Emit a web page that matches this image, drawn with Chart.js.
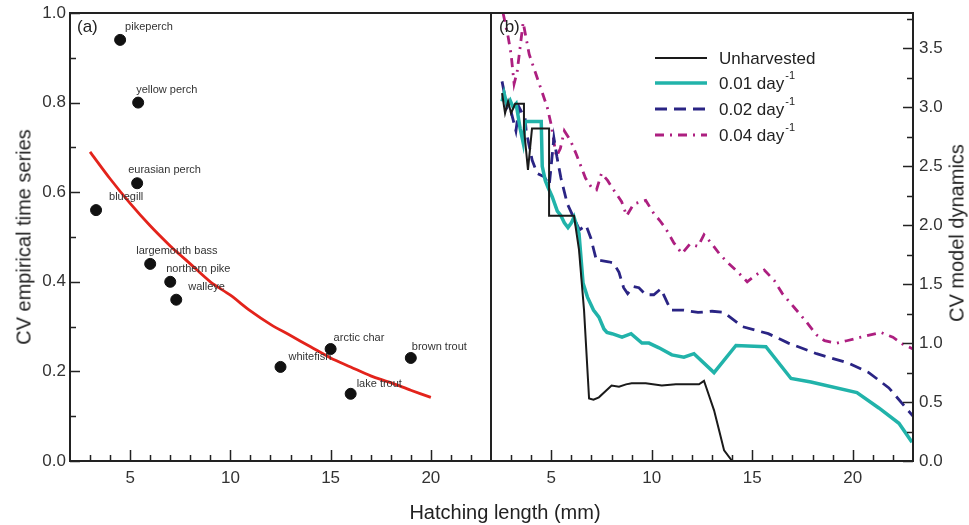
<!DOCTYPE html>
<html>
<head>
<meta charset="utf-8">
<script src="https://cdn.jsdelivr.net/npm/chart.js@4.4.0/dist/chart.umd.min.js"></script>
<style>
body { margin: 0; background: #fff; width: 969px; height: 525px; overflow: hidden; position: relative; font-family: "Liberation Sans", Arial, sans-serif; color: #222; }
#wrapA { position: absolute; left: 0; top: 0; width: 492px; height: 525px; }
#wrapB { position: absolute; left: 490px; top: 0; width: 479px; height: 525px; }
.title { position: absolute; white-space: nowrap; font-size: 20px; color: #222; transform: translate(-50%, -50%); }
.rot { transform: translate(-50%, -50%) rotate(-90deg); }
.panel { position: absolute; font-size: 17px; color: #222; }
</style>
</head>
<body>
<div id="wrapA"><canvas id="chartA"></canvas></div>
<div id="wrapB"><canvas id="chartB"></canvas></div>
<div class="panel" style="left:77px;top:17px">(a)</div>
<div class="panel" style="left:499px;top:17px">(b)</div>
<div class="title rot" style="left:24px;top:237px">CV empirical time series</div>
<div class="title rot" style="left:957px;top:233px">CV model dynamics</div>
<div class="title" style="left:505px;top:512px">Hatching length (mm)</div>
<script>
// ---- data ----
const fishNames = ['pikeperch', 'yellow perch', 'eurasian perch', 'bluegill', 'largemouth bass',
    'northern pike', 'walleye', 'whitefish', 'arctic char', 'lake trout', 'brown trout'];
const fishLength = [4.5, 5.4, 5.35, 3.3, 6.0, 7.0, 7.3, 12.5, 15.0, 16.0, 19.0];
const fishCV = [0.94, 0.80, 0.62, 0.56, 0.44, 0.40, 0.36, 0.21, 0.25, 0.15, 0.23];

// fitted curve
const fitLength = [3, 4, 5, 6, 7, 7.5, 8, 9, 10, 11, 12, 13, 14, 15, 16, 17, 18, 19, 20];
const fitCV = [0.69, 0.63, 0.575, 0.525, 0.48, 0.46, 0.44, 0.40, 0.37, 0.335, 0.305, 0.28, 0.255, 0.23, 0.21, 0.19, 0.175, 0.158, 0.142];

// model dynamics, [hatching length, CV]
const unharvested = [[2.55, 3.12], [2.7, 2.95], [2.85, 3.05], [3.0, 2.95], [3.2, 3.03], [3.64, 3.03],
    [3.64, 2.82], [3.84, 2.47], [4.04, 2.82], [4.89, 2.82], [4.89, 2.08], [6.13, 2.08], [6.38, 1.79],
    [6.63, 1.28], [6.88, 0.53], [7.1, 0.52], [7.37, 0.54], [8.0, 0.64], [8.37, 0.63], [8.72, 0.65],
    [9.0, 0.66], [9.7, 0.66], [10.5, 0.64], [11.2, 0.65], [12.35, 0.65], [12.6, 0.68], [12.7, 0.63],
    [13.1, 0.43], [13.35, 0.26], [13.6, 0.09], [14.0, 0.0], [23.0, 0.0]];
const harvest001 = [[2.55, 3.05], [2.65, 3.12], [2.8, 3.02], [2.95, 3.06], [3.1, 3.0], [3.25, 3.03],
    [3.45, 2.82], [3.6, 2.7], [3.7, 2.88], [4.5, 2.88], [4.55, 2.5], [4.7, 2.38], [4.84, 2.32],
    [5.05, 2.24], [5.3, 2.12], [5.48, 2.08], [5.65, 2.02], [5.83, 1.98], [6.0, 2.02], [6.13, 2.07],
    [6.38, 1.93], [6.58, 1.51], [6.8, 1.39], [7.1, 1.28], [7.37, 1.22], [7.62, 1.12], [7.77, 1.09],
    [8.02, 1.08], [8.52, 1.05], [8.97, 1.08], [9.51, 1.0], [9.86, 1.0], [10.36, 0.96], [11.0, 0.9],
    [11.6, 0.88], [12.1, 0.91], [13.1, 0.75], [14.19, 0.98], [15.68, 0.97], [16.93, 0.70],
    [17.92, 0.67], [20.21, 0.58], [21.3, 0.45], [22.3, 0.32], [22.95, 0.16]];
const harvest002 = [[2.55, 3.22], [2.8, 3.0], [2.9, 3.03], [3.24, 2.8], [3.4, 3.0], [3.7, 2.9],
    [3.75, 2.8], [4.05, 2.55], [4.3, 2.44], [4.65, 2.41], [4.9, 2.34], [5.13, 2.74], [5.28, 2.58],
    [5.48, 2.4], [5.8, 2.18], [6.1, 2.07], [6.4, 1.96], [6.73, 2.0], [6.97, 1.89], [7.1, 1.8],
    [7.25, 1.70], [7.5, 1.70], [7.85, 1.69], [8.1, 1.68], [8.37, 1.6], [8.6, 1.47], [8.8, 1.42],
    [9.1, 1.48], [9.36, 1.47], [9.7, 1.41], [10.1, 1.41], [10.45, 1.46], [10.95, 1.28], [11.6, 1.28],
    [12.3, 1.26], [13.0, 1.27], [13.6, 1.26], [14.5, 1.14], [15.8, 1.08], [16.8, 1.0], [18.2, 0.91],
    [19.8, 0.83], [20.8, 0.75], [21.8, 0.62], [23.0, 0.38]];
const harvest004 = [[2.6, 3.8], [2.85, 3.6], [3.0, 3.45], [3.15, 3.2], [3.3, 3.3], [3.6, 3.72],
    [3.9, 3.45], [4.2, 3.3], [4.6, 3.1], [4.8, 3.0], [5.0, 2.85], [5.25, 2.58], [5.45, 2.65],
    [5.65, 2.8], [5.95, 2.72], [6.25, 2.6], [6.7, 2.4], [7.0, 2.32], [7.25, 2.3], [7.5, 2.44],
    [7.8, 2.38], [8.1, 2.3], [8.5, 2.2], [8.75, 2.08], [9.1, 2.18], [9.7, 2.21], [10.1, 2.1],
    [10.4, 2.04], [10.7, 1.97], [11.1, 1.85], [11.5, 1.76], [11.9, 1.84], [12.3, 1.82], [12.6, 1.92],
    [13.0, 1.84], [13.4, 1.75], [13.8, 1.68], [14.3, 1.6], [14.75, 1.52], [15.2, 1.58], [15.6, 1.62],
    [16.1, 1.53], [16.5, 1.42], [17.1, 1.3], [17.6, 1.2], [18.2, 1.07], [18.6, 1.02], [19.2, 1.0],
    [19.7, 1.02], [20.4, 1.05], [21.4, 1.09], [22.0, 1.05], [22.5, 0.99], [23.0, 0.95]];
const seriesNames = ['Unharvested', '0.01 day', '0.02 day', '0.04 day'];
const seriesSup = ['', '-1', '-1', '-1'];

// ticks
const xTicks = [5, 10, 15, 20];
const xMinor = [3, 4, 6, 7, 8, 9, 11, 12, 13, 14, 16, 17, 18, 19, 21, 22];
const yTicksA = [0, 0.2, 0.4, 0.6, 0.8, 1.0];
const yMinorA = [0.1, 0.3, 0.5, 0.7, 0.9];
const yTicksB = [0, 0.5, 1.0, 1.5, 2.0, 2.5, 3.0, 3.5];
const yMinorB = [0.25, 0.75, 1.25, 1.75, 2.25, 2.75, 3.25, 3.75];

// ---- styles ----
const labelOffsets = [[5, -13], [-2, -13], [-9, -13], [13, -13], [-14, -13], [-4, -13], [12, -13],
    [8, -10], [3, -11], [6, -10], [1, -11]];
const tickFont = { family: '"Liberation Sans", Arial, sans-serif', size: 17 };
const inkColor = '#222';

const toXY = arr => arr.map(p => ({ x: p[0], y: p[1] }));

// inward tick marks + frame
const framePlugin = {
    id: 'frame',
    afterDraw(chart, args, opts) {
        const { ctx, chartArea: a, scales } = chart;
        ctx.save();
        ctx.strokeStyle = inkColor;
        ctx.lineWidth = 1.5;
        ctx.beginPath();
        const xt = (vals, len) => vals.forEach(v => {
            const px = Math.round(scales.x.getPixelForValue(v)) + 0.5;
            ctx.moveTo(px, a.bottom);
            ctx.lineTo(px, a.bottom - len);
        });
        const yt = (vals, len) => vals.forEach(v => {
            const py = Math.round(scales.y.getPixelForValue(v)) + 0.5;
            if (opts.side === 'left') {
                ctx.moveTo(a.left, py);
                ctx.lineTo(a.left + len, py);
            } else {
                ctx.moveTo(a.right, py);
                ctx.lineTo(a.right - len, py);
            }
        });
        xt(xTicks, 11);
        xt(xMinor, 6);
        yt(opts.major, 10);
        yt(opts.minor, 6);
        ctx.stroke();
        ctx.lineWidth = 2;
        ctx.strokeRect(a.left, a.top, a.width, a.height);
        ctx.restore();
    }
};

// fish name labels next to points
const pointLabels = {
    id: 'pointLabels',
    afterDatasetsDraw(chart) {
        const meta = chart.getDatasetMeta(1);
        const ctx = chart.ctx;
        ctx.save();
        ctx.font = '11px "Liberation Sans", Arial, sans-serif';
        ctx.fillStyle = '#333';
        ctx.textBaseline = 'middle';
        meta.data.forEach((el, i) => {
            ctx.fillText(fishNames[i], el.x + labelOffsets[i][0], el.y + labelOffsets[i][1]);
        });
        ctx.restore();
    }
};

// legend inside panel b
const innerLegend = {
    id: 'innerLegend',
    afterDraw(chart) {
        const ctx = chart.ctx;
        const rows = [58, 83, 109, 135];
        ctx.save();
        chart.data.datasets.forEach((ds, i) => {
            const y = rows[i];
            ctx.beginPath();
            ctx.strokeStyle = ds.borderColor;
            ctx.lineWidth = ds.borderWidth;
            ctx.setLineDash(ds.borderDash || []);
            ctx.moveTo(165, y);
            ctx.lineTo(217, y);
            ctx.stroke();
            ctx.setLineDash([]);
            ctx.fillStyle = inkColor;
            ctx.textBaseline = 'middle';
            ctx.font = '17px "Liberation Sans", Arial, sans-serif';
            ctx.fillText(seriesNames[i], 229, y + 1);
            if (seriesSup[i]) {
                const w = ctx.measureText(seriesNames[i]).width;
                ctx.font = '11px "Liberation Sans", Arial, sans-serif';
                ctx.fillText(seriesSup[i], 229 + w + 1, y - 7);
            }
        });
        ctx.restore();
    }
};

const xScale = {
    type: 'linear',
    min: 2,
    max: 23,
    afterBuildTicks: s => { s.ticks = xTicks.map(v => ({ value: v })); },
    afterFit: s => { s.height = 64; s.paddingLeft = 0; s.paddingRight = 0; },
    grid: { display: false, drawTicks: false },
    border: { display: false },
    ticks: { font: tickFont, color: '#333', padding: 7, maxRotation: 0 }
};

new Chart(document.getElementById('chartA'), {
    type: 'scatter',
    data: {
        datasets: [
            {
                type: 'line',
                data: fitLength.map((v, i) => ({ x: v, y: fitCV[i] })),
                borderColor: '#e3231b',
                borderWidth: 2.8,
                pointRadius: 0,
                tension: 0.3,
                fill: false
            },
            {
                data: fishLength.map((v, i) => ({ x: v, y: fishCV[i] })),
                backgroundColor: '#111',
                borderColor: '#111',
                pointRadius: 5.5,
                pointHoverRadius: 5.5
            }
        ]
    },
    options: {
        responsive: true,
        maintainAspectRatio: false,
        animation: false,
        events: [],
        layout: { autoPadding: false, padding: { top: 13, right: 1, left: 0, bottom: 0 } },
        plugins: {
            legend: { display: false },
            tooltip: { enabled: false },
            frame: { side: 'left', major: yTicksA, minor: yMinorA }
        },
        scales: {
            x: xScale,
            y: {
                type: 'linear',
                min: 0,
                max: 1.0,
                afterBuildTicks: s => { s.ticks = yTicksA.map(v => ({ value: v })); },
                afterFit: s => { s.width = 70; s.paddingTop = 0; s.paddingBottom = 0; },
                grid: { display: false, drawTicks: false },
                border: { display: false },
                ticks: { font: tickFont, color: '#333', padding: 4, callback: v => v.toFixed(1) }
            }
        }
    },
    plugins: [framePlugin, pointLabels]
});

new Chart(document.getElementById('chartB'), {
    type: 'line',
    data: {
        datasets: [
            { data: toXY(unharvested), borderColor: '#1a1a1a', borderWidth: 2, pointRadius: 0, tension: 0 },
            { data: toXY(harvest001), borderColor: '#21b3aa', borderWidth: 3.5, pointRadius: 0, tension: 0 },
            { data: toXY(harvest002), borderColor: '#2a2484', borderWidth: 2.8, borderDash: [12, 7], pointRadius: 0, tension: 0 },
            { data: toXY(harvest004), borderColor: '#ad1f80', borderWidth: 2.8, borderDash: [9, 6, 2, 6], pointRadius: 0, tension: 0 }
        ]
    },
    options: {
        responsive: true,
        maintainAspectRatio: false,
        animation: false,
        events: [],
        layout: { autoPadding: false, padding: { top: 13, right: 0, left: 1, bottom: 0 } },
        plugins: {
            legend: { display: false },
            tooltip: { enabled: false },
            frame: { side: 'right', major: yTicksB, minor: yMinorB }
        },
        scales: {
            x: xScale,
            y: {
                type: 'linear',
                position: 'right',
                min: 0,
                max: 3.8,
                afterBuildTicks: s => { s.ticks = yTicksB.map(v => ({ value: v })); },
                afterFit: s => { s.width = 56; s.paddingTop = 0; s.paddingBottom = 0; },
                grid: { display: false, drawTicks: false },
                border: { display: false },
                ticks: { font: tickFont, color: '#333', padding: 6, callback: v => v.toFixed(1) }
            }
        }
    },
    plugins: [framePlugin, innerLegend]
});
</script>
</body>
</html>
